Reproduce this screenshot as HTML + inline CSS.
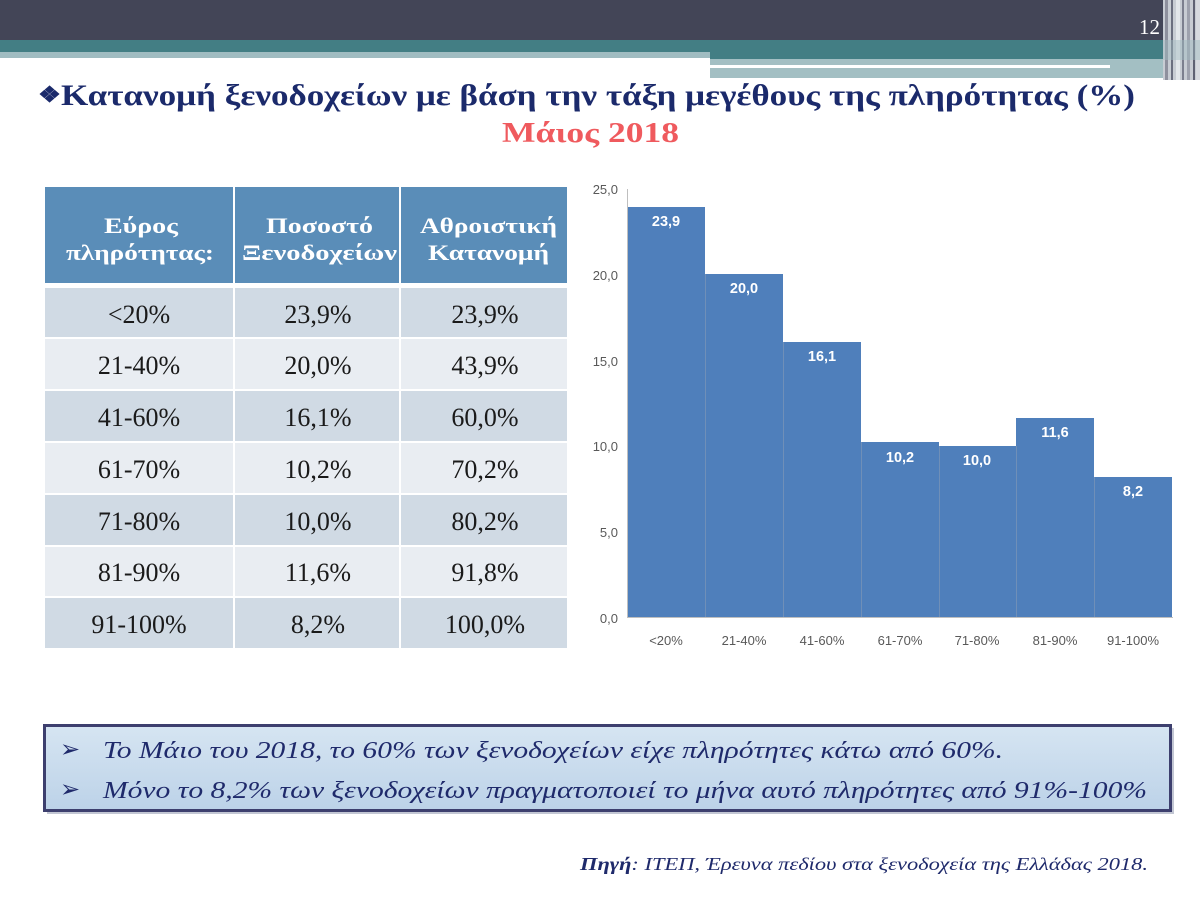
<!DOCTYPE html>
<html>
<head>
<meta charset="utf-8">
<style>
  html,body{margin:0;padding:0;background:#fff;}
  svg{display:block;}
  .serif{font-family:"Liberation Serif","DejaVu Serif",serif;}
  .sans{font-family:"Liberation Sans","DejaVu Sans",sans-serif;}
</style>
</head>
<body>
<svg width="1200" height="900" viewBox="0 0 1200 900" xmlns="http://www.w3.org/2000/svg">
  <defs>
    <linearGradient id="boxg" x1="0" y1="0" x2="0" y2="1">
      <stop offset="0" stop-color="#d6e5f2"/>
      <stop offset="1" stop-color="#bcd2e8"/>
    </linearGradient>
  </defs>
  <rect x="0" y="0" width="1200" height="900" fill="#ffffff"/>

  <!-- header bands -->
  <rect x="0" y="0" width="1200" height="40" fill="#434557"/>
  <rect x="0" y="40" width="1163" height="12" fill="#437e84"/>
  <rect x="0" y="52" width="710" height="6" fill="#a0bcc1"/>
  <rect x="710" y="52" width="453" height="7" fill="#437e84"/>
  <rect x="710" y="59" width="453" height="6" fill="#a3bfc3"/>
  <rect x="710" y="65" width="400" height="3" fill="#ffffff"/>
  <rect x="1110" y="65" width="53" height="3" fill="#a3bfc3"/>
  <rect x="710" y="68" width="467" height="10" fill="#a3bfc3"/>
  <!-- right stripes -->
  <rect x="1163" y="0" width="37" height="80" fill="#c8ccd3"/>
  <rect x="1165" y="0" width="3" height="80" fill="#8e909d"/>
  <rect x="1171" y="0" width="2" height="80" fill="#6b6e7f"/>
  <rect x="1176" y="0" width="4" height="80" fill="#e3e6ea"/>
  <rect x="1182" y="0" width="2" height="80" fill="#7c7f8e"/>
  <rect x="1187" y="0" width="3" height="80" fill="#9ea1ad"/>
  <rect x="1193" y="0" width="2" height="80" fill="#5f6273"/>
  <rect x="1196" y="0" width="4" height="80" fill="#d7dadf"/>
  <rect x="1163" y="40" width="37" height="20" fill="#9fbcc0" opacity="0.45"/>

  <text x="1160" y="34" text-anchor="end" class="serif" font-size="21" fill="#ffffff">12</text>

  <!-- Title -->
  <text x="38" y="105" class="serif" font-size="30" font-weight="bold" fill="#1b2a6b" textLength="1097" lengthAdjust="spacingAndGlyphs"><tspan font-size="22" dy="-3">❖</tspan><tspan dy="3">Κατανομή ξενοδοχείων με βάση την τάξη μεγέθους της πληρότητας (%)</tspan></text>
  <text x="502" y="142" class="serif" font-size="28" font-weight="bold" fill="#ef5a5e" textLength="177" lengthAdjust="spacingAndGlyphs">Μάιος 2018</text>

  <!-- Table -->
  <rect x="45" y="187" width="188" height="96" fill="#5a8db8"/>
  <rect x="235" y="187" width="164" height="96" fill="#5a8db8"/>
  <rect x="401" y="187" width="166" height="96" fill="#5a8db8"/>
  <g class="serif" font-size="22" font-weight="bold" fill="#ffffff">
    <text x="104" y="233" textLength="74" lengthAdjust="spacingAndGlyphs">Εύρος</text>
    <text x="66" y="260" textLength="148" lengthAdjust="spacingAndGlyphs">πληρότητας:</text>
    <text x="266" y="233" textLength="107" lengthAdjust="spacingAndGlyphs">Ποσοστό</text>
    <text x="242" y="260" textLength="155" lengthAdjust="spacingAndGlyphs">Ξενοδοχείων</text>
    <text x="420" y="233" textLength="137" lengthAdjust="spacingAndGlyphs">Αθροιστική</text>
    <text x="428" y="260" textLength="121" lengthAdjust="spacingAndGlyphs">Κατανομή</text>
  </g>

  <g>
    <rect x="45" y="288" width="188" height="49" fill="#d0dae4"/>
    <rect x="235" y="288" width="164" height="49" fill="#d0dae4"/>
    <rect x="401" y="288" width="166" height="49" fill="#d0dae4"/>

    <rect x="45" y="339" width="188" height="50" fill="#e9edf2"/>
    <rect x="235" y="339" width="164" height="50" fill="#e9edf2"/>
    <rect x="401" y="339" width="166" height="50" fill="#e9edf2"/>

    <rect x="45" y="391" width="188" height="50" fill="#d0dae4"/>
    <rect x="235" y="391" width="164" height="50" fill="#d0dae4"/>
    <rect x="401" y="391" width="166" height="50" fill="#d0dae4"/>

    <rect x="45" y="443" width="188" height="50" fill="#e9edf2"/>
    <rect x="235" y="443" width="164" height="50" fill="#e9edf2"/>
    <rect x="401" y="443" width="166" height="50" fill="#e9edf2"/>

    <rect x="45" y="495" width="188" height="50" fill="#d0dae4"/>
    <rect x="235" y="495" width="164" height="50" fill="#d0dae4"/>
    <rect x="401" y="495" width="166" height="50" fill="#d0dae4"/>

    <rect x="45" y="547" width="188" height="49" fill="#e9edf2"/>
    <rect x="235" y="547" width="164" height="49" fill="#e9edf2"/>
    <rect x="401" y="547" width="166" height="49" fill="#e9edf2"/>

    <rect x="45" y="598" width="188" height="50" fill="#d0dae4"/>
    <rect x="235" y="598" width="164" height="50" fill="#d0dae4"/>
    <rect x="401" y="598" width="166" height="50" fill="#d0dae4"/>
  </g>
  <g class="serif" font-size="26" fill="#1a1a1a" text-anchor="middle">
    <text x="139" y="323">&lt;20%</text><text x="318" y="323">23,9%</text><text x="485" y="323">23,9%</text>
    <text x="139" y="374">21-40%</text><text x="318" y="374">20,0%</text><text x="485" y="374">43,9%</text>
    <text x="139" y="426">41-60%</text><text x="318" y="426">16,1%</text><text x="485" y="426">60,0%</text>
    <text x="139" y="478">61-70%</text><text x="318" y="478">10,2%</text><text x="485" y="478">70,2%</text>
    <text x="139" y="530">71-80%</text><text x="318" y="530">10,0%</text><text x="485" y="530">80,2%</text>
    <text x="139" y="581">81-90%</text><text x="318" y="581">11,6%</text><text x="485" y="581">91,8%</text>
    <text x="139" y="633">91-100%</text><text x="318" y="633">8,2%</text><text x="485" y="633">100,0%</text>
  </g>

  <!-- Chart -->
  <g>
    <rect x="627" y="207" width="78" height="410" fill="#4f7fbb"/>
    <rect x="705" y="274" width="78" height="343" fill="#4f7fbb"/>
    <rect x="783" y="342" width="78" height="275" fill="#4f7fbb"/>
    <rect x="861" y="442" width="78" height="175" fill="#4f7fbb"/>
    <rect x="939" y="446" width="77" height="171" fill="#4f7fbb"/>
    <rect x="1016" y="418" width="78" height="199" fill="#4f7fbb"/>
    <rect x="1094" y="477" width="78" height="140" fill="#4f7fbb"/>
    <g stroke="#6f8fb8" stroke-width="1">
      <line x1="705.5" y1="274" x2="705.5" y2="617"/>
      <line x1="783.5" y1="342" x2="783.5" y2="617"/>
      <line x1="861.5" y1="442" x2="861.5" y2="617"/>
      <line x1="939.5" y1="446" x2="939.5" y2="617"/>
      <line x1="1016.5" y1="446" x2="1016.5" y2="617"/>
      <line x1="1094.5" y1="477" x2="1094.5" y2="617"/>
    </g>
    <line x1="627.5" y1="189" x2="627.5" y2="618" stroke="#bfbfbf" stroke-width="1"/>
    <line x1="627" y1="617.5" x2="1173" y2="617.5" stroke="#bfbfbf" stroke-width="1"/>
  </g>
  <g class="sans" font-size="13" fill="#595959" text-anchor="end">
    <text x="618" y="194">25,0</text>
    <text x="618" y="280">20,0</text>
    <text x="618" y="366">15,0</text>
    <text x="618" y="451">10,0</text>
    <text x="618" y="537">5,0</text>
    <text x="618" y="623">0,0</text>
  </g>
  <g class="sans" font-size="13" fill="#595959" text-anchor="middle">
    <text x="666" y="645">&lt;20%</text>
    <text x="744" y="645">21-40%</text>
    <text x="822" y="645">41-60%</text>
    <text x="900" y="645">61-70%</text>
    <text x="977" y="645">71-80%</text>
    <text x="1055" y="645">81-90%</text>
    <text x="1133" y="645">91-100%</text>
  </g>
  <g class="sans" font-size="14.5" font-weight="bold" fill="#ffffff" text-anchor="middle">
    <text x="666" y="226">23,9</text>
    <text x="744" y="293">20,0</text>
    <text x="822" y="361">16,1</text>
    <text x="900" y="462">10,2</text>
    <text x="977" y="465">10,0</text>
    <text x="1055" y="437">11,6</text>
    <text x="1133" y="496">8,2</text>
  </g>

  <!-- Summary box -->
  <rect x="47" y="728" width="1127" height="86" fill="#9aa0b5" opacity="0.6"/>
  <rect x="44.5" y="725.5" width="1126" height="85" fill="url(#boxg)" stroke="#3d3f6e" stroke-width="3"/>
  <g class="serif" font-size="24" font-style="italic" fill="#1f2a6b">
    <text x="60" y="757" font-style="normal" font-size="24">➢</text>
    <text x="103" y="758" textLength="900" lengthAdjust="spacingAndGlyphs">Το Μάιο του 2018, το 60% των ξενοδοχείων είχε πληρότητες κάτω από 60%.</text>
    <text x="60" y="797" font-style="normal" font-size="24">➢</text>
    <text x="103" y="798" textLength="1044" lengthAdjust="spacingAndGlyphs">Μόνο το 8,2% των ξενοδοχείων πραγματοποιεί το μήνα αυτό πληρότητες από 91%-100%</text>
  </g>

  <!-- Source -->
  <text x="580" y="870" class="serif" font-size="18" font-style="italic" fill="#1f2a6b" textLength="568" lengthAdjust="spacingAndGlyphs"><tspan font-weight="bold">Πηγή</tspan>: ΙΤΕΠ, Έρευνα πεδίου στα ξενοδοχεία της Ελλάδας 2018.</text>
</svg>
</body>
</html>
